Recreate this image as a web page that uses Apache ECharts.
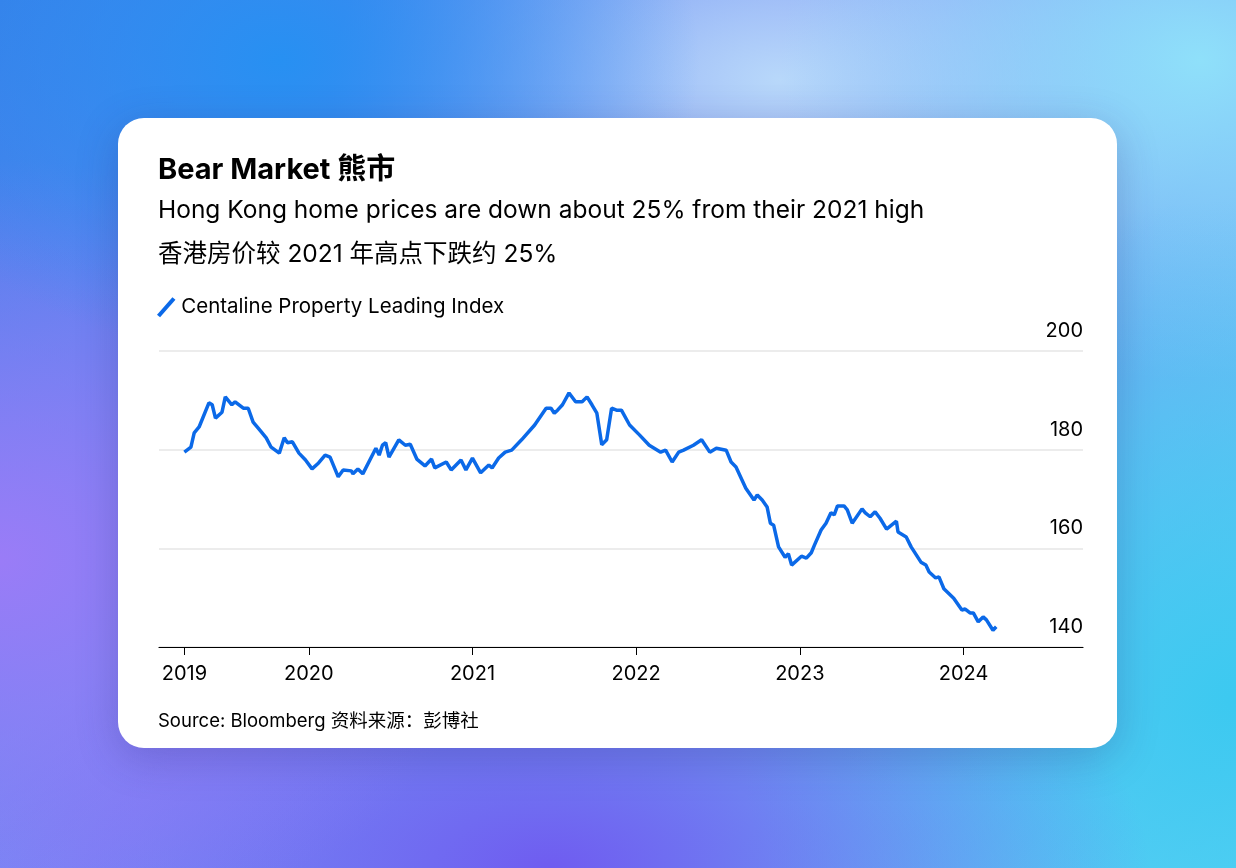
<!DOCTYPE html>
<html>
<head>
<meta charset="utf-8">
<script src="https://cdn.jsdelivr.net/npm/echarts@6/dist/echarts.min.js"></script>
<style>
html, body { margin: 0; padding: 0; width: 1236px; height: 868px; overflow: hidden; }
body {
  background:
    radial-gradient(ellipse 420px 300px at 280px 60px, #2790f2 0%, rgba(39,144,242,0) 100%),
    radial-gradient(ellipse 500px 400px at 0px 560px, #9a7cf7 0%, rgba(154,124,247,0) 100%),
    radial-gradient(ellipse 600px 300px at 550px 868px, #6f5cf0 0%, rgba(111,92,240,0) 100%),
    radial-gradient(ellipse 500px 500px at 1236px 700px, #3cc9f0 0%, rgba(60,201,240,0) 100%),
    radial-gradient(ellipse 420px 320px at 1200px 60px, #8fe0fa 0%, rgba(143,224,250,0) 100%),
    radial-gradient(ellipse 450px 260px at 780px 80px, #b8d8fa 0%, rgba(184,216,250,0) 100%),
    linear-gradient(135deg, #3a7fe8 0%, #7a8af5 45%, #6fb8f5 75%, #6ad6f7 100%);
}
#card { position: absolute; left: 118px; top: 118px; width: 999px; height: 630px; background: #fff; border-radius: 26px; box-shadow: 0 10px 40px rgba(40,40,120,0.25); }
#main { position: absolute; left: 0; top: 0; width: 1236px; height: 868px; }
</style>
</head>
<body>
<div id="card"></div>
<div id="main"></div>
<script>
// 时间（年份小数）
var dates = [2019.24,2019.28,2019.30,2019.33,2019.39,2019.41,2019.43,2019.47,2019.49,2019.53,2019.55,2019.60,2019.63,2019.66,2019.70,2019.74,2019.77,2019.82,2019.85,2019.87,2019.90,2019.94,2019.98,
  2020.02,2020.06,2020.10,2020.13,2020.18,2020.21,2020.26,2020.27,2020.30,2020.33,2020.41,2020.43,2020.45,2020.47,2020.49,2020.55,2020.59,2020.62,2020.66,2020.71,2020.75,2020.77,2020.84,2020.87,2020.93,2020.96,
  2021.00,2021.05,2021.10,2021.12,2021.16,2021.20,2021.24,2021.30,2021.38,2021.45,2021.48,2021.50,2021.52,2021.55,2021.59,2021.63,2021.67,2021.70,2021.73,2021.76,2021.79,2021.82,2021.85,2021.88,2021.91,2021.96,
  2022.02,2022.08,2022.15,2022.18,2022.22,2022.26,2022.29,2022.35,2022.40,2022.45,2022.49,2022.55,2022.58,2022.61,2022.67,2022.72,2022.74,2022.77,2022.80,2022.82,2022.84,2022.87,2022.91,2022.93,2022.95,
  2023.01,2023.04,2023.07,2023.09,2023.10,2023.13,2023.16,2023.19,2023.21,2023.23,2023.27,2023.29,2023.32,2023.38,2023.40,2023.43,2023.46,2023.49,2023.53,2023.59,2023.60,2023.65,2023.68,2023.74,2023.77,2023.79,2023.83,2023.85,2023.88,2023.94,2023.99,
  2024.01,2024.04,2024.06,2024.09,2024.12,2024.14,2024.18,2024.20];
// 中原城市领先指数
var cli = [179.5,180.5,183.4,184.6,189.5,189.1,186.4,187.6,190.7,189.1,189.7,188.4,188.4,185.6,184.0,182.4,180.5,179.3,182.4,181.4,181.6,179.3,177.9,
  176.1,177.3,178.9,178.5,174.5,175.9,175.7,175.1,176.1,175.1,180.3,178.9,180.9,181.4,178.5,182.0,180.9,181.1,178.1,176.7,178.1,176.3,177.5,175.9,177.9,175.9,
  178.3,175.3,176.9,176.3,178.3,179.5,179.9,182.0,185.0,188.4,188.4,187.4,188.0,189.1,191.5,189.7,189.7,190.7,189.1,187.4,181.0,182.0,188.4,188.0,188.0,185.0,
  183.0,180.9,179.5,179.9,177.5,179.5,179.9,180.9,182.0,179.5,180.3,179.9,177.5,176.5,172.2,169.8,170.8,169.8,168.4,165.1,164.7,160.3,158.2,158.9,156.6,
  158.4,158.0,159.1,160.7,160.3,163.7,165.1,167.2,166.8,168.6,168.6,167.8,165.1,168.0,167.2,166.4,167.4,166.1,163.9,165.5,163.3,162.3,160.3,157.2,156.6,155.2,154.0,154.2,151.8,149.9,147.5,
  147.7,146.9,146.9,145.1,146.1,145.5,143.4,144.1];
var xTicks = [2019.24, 2020, 2021, 2022, 2023, 2024];
var xTickLabels = ['2019', '2020', '2021', '2022', '2023', '2024'];

var points = [];
for (var i = 0; i < dates.length; i++) {
    points.push([dates[i], cli[i]]);
}

var font = '"Inter", "Noto Sans CJK SC", sans-serif';
var myChart = echarts.init(document.getElementById('main'));
var option = {
    textStyle: { fontFamily: font },
    title: [
        { text: 'Bear Market 熊市', left: 153, top: 151, textStyle: { fontFamily: font, fontSize: 29, fontWeight: 'bold', color: '#000' } },
        { text: 'Hong Kong home prices are down about 25% from their 2021 high', left: 153, top: 193, textStyle: { fontFamily: font, fontSize: 24.5, fontWeight: 'normal', color: '#000' } },
        { text: '香港房价较 2021 年高点下跌约 25%', left: 153, top: 237, textStyle: { fontFamily: font, fontSize: 24.5, fontWeight: 'normal', color: '#000' } },
        { text: 'Source: Bloomberg 资料来源：彭博社', left: 153, top: 707, textStyle: { fontFamily: font, fontSize: 18.5, fontWeight: 'normal', color: '#000' } }
    ],
    legend: {
        left: 152, top: 292,
        itemWidth: 20, itemHeight: 20,
        itemGap: 6,
        icon: 'path://M0,17 L15,0 L18,2.5 L3,19.5 Z',
        textStyle: { fontFamily: font, fontSize: 20.5, color: '#000' },
        data: ['Centaline Property Leading Index']
    },
    grid: { left: 159, right: 153, top: 351, bottom: 221 },
    xAxis: {
        type: 'value',
        min: 2019.085,
        max: 2024.73,
        splitLine: { show: false },
        axisLine: { lineStyle: { color: '#000', width: 1.2 } },
        axisTick: { customValues: xTicks, length: 8, lineStyle: { color: '#000' } },
        axisLabel: {
            customValues: xTicks,
            margin: 17,
            fontSize: 20,
            color: '#000',
            formatter: function (v) {
                var k = xTicks.indexOf(v);
                return k >= 0 ? xTickLabels[k] : '';
            }
        }
    },
    yAxis: {
        type: 'value',
        position: 'right',
        min: 140,
        max: 200,
        interval: 20,
        axisLine: { show: false },
        axisTick: { show: false },
        splitLine: { lineStyle: { color: '#e6e6e6', width: 1.5 } },
        axisLabel: {
            inside: true,
            margin: 0,
            fontSize: 20,
            color: '#000',
            verticalAlign: 'bottom',
            padding: [0, 0, 10, 0],
            showMinLabel: true
        }
    },
    series: [{
        name: 'Centaline Property Leading Index',
        type: 'line',
        data: points,
        showSymbol: false,
        smooth: false,
        color: '#0b69e8',
        lineStyle: { width: 3.5, color: '#0b69e8' }
    }]
};
myChart.setOption(option);
</script>
</body>
</html>
